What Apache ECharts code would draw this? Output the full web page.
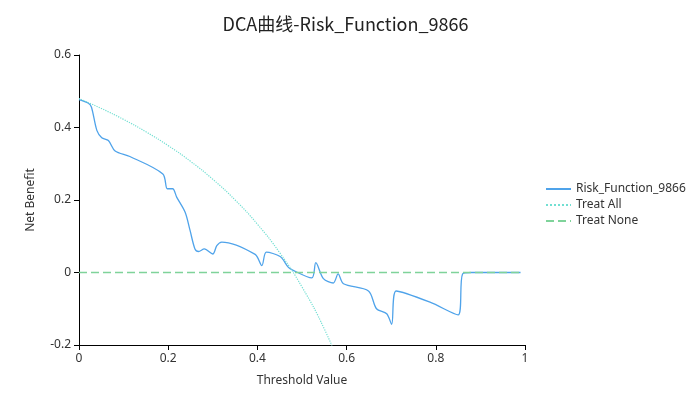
<!DOCTYPE html>
<html>
<head>
<meta charset="utf-8">
<script src="https://cdn.jsdelivr.net/npm/echarts@6/dist/echarts.min.js"></script>
<style>
  html, body { margin: 0; padding: 0; background: #fff; }
  #chart { width: 691px; height: 399px; }
</style>
</head>
<body>
<div id="chart"></div>
<script>
const xTicks = [0, 0.2, 0.4, 0.6, 0.8, 1];
const yTicks = [-0.2, 0, 0.2, 0.4, 0.6];

// Risk_Function_9866 curve, [threshold, net benefit]
const riskModel = [
  [0, 0.477], [0.021, 0.467], [0.028, 0.456], [0.04, 0.392], [0.051, 0.372],
  [0.066, 0.364], [0.081, 0.335], [0.114, 0.32], [0.188, 0.272], [0.198, 0.231],
  [0.21, 0.231], [0.219, 0.208], [0.238, 0.166], [0.249, 0.116], [0.26, 0.065],
  [0.268, 0.058], [0.281, 0.065], [0.3, 0.051], [0.309, 0.074], [0.32, 0.084],
  [0.395, 0.05], [0.41, 0.019], [0.42, 0.056], [0.451, 0.044], [0.469, 0.015],
  [0.477, 0.008], [0.522, -0.015], [0.531, 0.027], [0.548, -0.017], [0.57, -0.029],
  [0.581, -0.004], [0.593, -0.031], [0.649, -0.051], [0.667, -0.1], [0.69, -0.114],
  [0.701, -0.143], [0.711, -0.051], [0.787, -0.082], [0.85, -0.117], [0.86, -0.004],
  [0.88, 0], [0.99, 0]
];

const treatAll = [
  [0, 0.48], [0.05, 0.4526], [0.1, 0.4222], [0.15, 0.3882], [0.2, 0.35],
  [0.25, 0.3067], [0.3, 0.2571], [0.35, 0.2], [0.4, 0.1333], [0.45, 0.0545],
  [0.5, -0.04], [0.55, -0.1556], [0.6, -0.3]
];

const treatNone = [[0, 0], [0.99, 0]];

const seriesNames = ['Risk_Function_9866', 'Treat All', 'Treat None'];

const chart = echarts.init(document.getElementById('chart'));

const axisText = { color: '#333', fontSize: 12, fontFamily: 'Noto Sans, sans-serif' };

chart.setOption({
  animation: false,
  title: {
    text: 'DCA曲线-Risk_Function_9866',
    left: 'center',
    top: 10,
    textStyle: { fontSize: 18, fontWeight: 'normal', color: '#222', fontFamily: 'Noto Sans CJK SC, sans-serif' }
  },
  legend: {
    orient: 'vertical',
    left: 540,
    top: 178,
    itemWidth: 25,
    itemHeight: 14,
    itemGap: 4,
    itemStyle: { opacity: 0 },
    lineStyle: { width: 2 },
    textStyle: { color: '#333', fontSize: 12, fontFamily: 'Noto Sans, sans-serif' },
    data: seriesNames
  },
  grid: { left: 79, right: 166, top: 55, bottom: 54 },
  xAxis: {
    type: 'value',
    min: 0,
    max: 1,
    interval: 0.2,
    name: 'Threshold Value',
    nameLocation: 'middle',
    nameGap: 30,
    nameTextStyle: axisText,
    axisLine: { onZero: false, lineStyle: { color: '#000' } },
    axisTick: { show: true, lineStyle: { color: '#000' } },
    axisLabel: Object.assign({ formatter: v => String(+v.toFixed(1)) }, axisText),
    splitLine: { show: false }
  },
  yAxis: {
    type: 'value',
    min: -0.2,
    max: 0.6,
    interval: 0.2,
    name: 'Net Benefit',
    nameLocation: 'middle',
    nameGap: 42,
    nameTextStyle: axisText,
    axisLine: { show: true, lineStyle: { color: '#000' } },
    axisTick: { show: true, lineStyle: { color: '#000' } },
    axisLabel: Object.assign({ formatter: v => String(+v.toFixed(1)) }, axisText),
    splitLine: { show: false }
  },
  series: [
    {
      name: seriesNames[0],
      type: 'line',
      data: riskModel,
      smooth: 0.3,
      symbol: 'none',
      lineStyle: { color: '#4fa3ea', width: 1.3 },
      itemStyle: { color: '#4fa3ea' },
      z: 3
    },
    {
      name: seriesNames[1],
      type: 'line',
      data: treatAll,
      smooth: true,
      symbol: 'none',
      lineStyle: { color: '#72dfd2', width: 1.2, type: 'dotted' },
      itemStyle: { color: '#72dfd2' }
    },
    {
      name: seriesNames[2],
      type: 'line',
      data: treatNone,
      symbol: 'none',
      lineStyle: { color: '#7fd39a', width: 1.5, type: [8, 4] },
      itemStyle: { color: '#7fd39a' }
    }
  ]
});
</script>
</body>
</html>
